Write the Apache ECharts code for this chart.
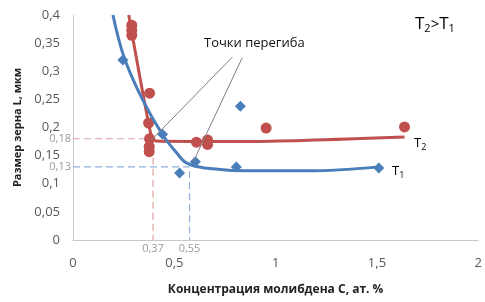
<!DOCTYPE html>
<html>
<head>
<meta charset="utf-8">
<script src="https://cdn.jsdelivr.net/npm/echarts@6/dist/echarts.min.js"></script>
<style>
	html, body {margin: 0; padding: 0; background: #fff;}
	#chart {width: 485px; height: 302px;}
</style>
</head>
<body>
<div id="chart"></div>
<script>
// measured points
var t1_x = [0.246, 0.442, 0.526, 0.604, 0.806, 0.826, 1.509];
var t1_y = [0.32, 0.188, 0.119, 0.139, 0.13, 0.238, 0.128];
var t2_x = [0.29, 0.29, 0.29, 0.378, 0.373, 0.378, 0.376, 0.376, 0.609, 0.664, 0.664, 0.953, 1.636];
var t2_y = [0.382, 0.373, 0.364, 0.261, 0.208, 0.18, 0.166, 0.157, 0.174, 0.178, 0.17, 0.199, 0.201];

// trend curves
var fit1_x = [0.197, 0.252, 0.344, 0.442, 0.511, 0.56, 0.65, 0.87, 1.165, 1.509];
var fit1_y = [0.40, 0.325, 0.249, 0.187, 0.155, 0.137, 0.128, 0.123, 0.123, 0.13];
var fit2_x = [0.275, 0.383, 0.41, 0.87, 1.636];
var fit2_y = [0.40, 0.19, 0.176, 0.175, 0.183];

// inflection points and their labels
var bend_x = [0.395, 0.575];
var bend_y = [0.18, 0.13];
var bend_x_labels = ['0,37', '0,55'];
var bend_y_labels = ['0,18', '0,13'];

// callout "Точки перегиба": start of leader lines and their ends
var callout_from = [[0.786, 0.325], [0.835, 0.324]];
var callout_to = [[0.388, 0.178], [0.595, 0.14]];

var x_ticks = [0, 0.5, 1, 1.5, 2];
var y_ticks = [0, 0.05, 0.1, 0.15, 0.2, 0.25, 0.3, 0.35, 0.4];

var blue = '#4a7ebb';
var red = '#c0504d';
var font = '"Open Sans", "Noto Sans", sans-serif';

function zip(xs, ys){
	var out = [];
	for (var i = 0; i < xs.length; i++) out.push([xs[i], ys[i]]);
	return out;
}

function comma(v){
	return String(+v.toFixed(2)).replace('.', ',');
}

var leaders = [];
for (var i = 0; i < callout_from.length; i++){
	leaders.push(callout_from[i], callout_to[i], '-');
}

var myChart = echarts.init(document.getElementById('chart'));

var options = {
	animation: false,
	textStyle: {fontFamily: font},
	grid: {left: 73, right: 5, top: 15, bottom: 62},
	xAxis: {
		type: 'value', min: x_ticks[0], max: x_ticks[x_ticks.length - 1], interval: 0.5,
		name: 'Концентрация молибдена C, ат. %', nameLocation: 'middle', nameGap: 44,
		nameTextStyle: {fontSize: 12, fontWeight: 'bold', color: '#222'},
		axisLine: {lineStyle: {color: '#c8c8c8', width: 1}},
		axisTick: {show: false},
		splitLine: {show: false},
		axisLabel: {margin: 17, fontSize: 13, color: '#595959', formatter: comma}
	},
	yAxis: {
		type: 'value', min: y_ticks[0], max: y_ticks[y_ticks.length - 1], interval: 0.05,
		name: 'Размер зерна L, мкм', nameLocation: 'middle', nameGap: 48,
		nameTextStyle: {fontSize: 11, fontWeight: 'bold', color: '#222'},
		axisLine: {show: true, lineStyle: {color: '#c8c8c8', width: 1}},
		axisTick: {show: false},
		splitLine: {show: false},
		axisLabel: {margin: 13, fontSize: 13, color: '#595959', formatter: comma}
	},
	series: [
		{
			name: 'ref T2', type: 'line', silent: true, symbol: 'none', z: 1,
			data: [[0, bend_y[0]], [bend_x[0], bend_y[0]], [bend_x[0], 0]],
			lineStyle: {color: '#dca3a2', width: 1.2, type: [7, 4]}
		},
		{
			name: 'ref T1', type: 'line', silent: true, symbol: 'none', z: 1,
			data: [[0, bend_y[1]], [bend_x[1], bend_y[1]], [bend_x[1], 0]],
			lineStyle: {color: '#8fb0da', width: 1.2, type: [7, 4]}
		},
		{
			name: 'callout', type: 'line', silent: true, symbol: 'none', z: 5,
			data: leaders, connectNulls: false,
			lineStyle: {color: '#808080', width: 1}
		},
		{
			name: 'T2 points', type: 'scatter', symbol: 'circle', symbolSize: 11, z: 3,
			data: zip(t2_x, t2_y), itemStyle: {color: red, opacity: 1}
		},
		{
			name: 'T1 points', type: 'scatter', symbol: 'diamond', symbolSize: 11, z: 3,
			data: zip(t1_x, t1_y), itemStyle: {color: blue, opacity: 1}
		},
		{
			name: 'T2', type: 'line', symbol: 'none', smooth: 0.2, z: 4,
			data: zip(fit2_x, fit2_y), lineStyle: {color: red, width: 3}
		},
		{
			name: 'T1', type: 'line', symbol: 'none', smooth: 0.35, z: 4,
			data: zip(fit1_x, fit1_y), lineStyle: {color: blue, width: 3}
		},
		{
			name: 'y marks', type: 'scatter', symbolSize: 0, clip: false, silent: true,
			data: [[0, bend_y[0]], [0, bend_y[1]]],
			label: {
				show: true, position: 'left', distance: 2, fontSize: 11, color: '#7f7f7f',
				formatter: function(p){ return bend_y_labels[p.dataIndex]; }
			}
		},
		{
			name: 'x marks', type: 'scatter', symbolSize: 0, clip: false, silent: true,
			data: [[bend_x[0], 0], [bend_x[1], 0]],
			label: {
				show: true, position: 'bottom', distance: 3, fontSize: 11, color: '#7f7f7f',
				formatter: function(p){ return bend_x_labels[p.dataIndex]; }
			}
		}
	],
	graphic: [
		{type: 'text', left: 204, top: 37, style: {text: 'Точки перегиба', font: '13px ' + font, fill: '#111'}},
		{
			type: 'text', left: 415, top: 16,
			style: {
				text: '{t|T}{s|2}{g|>}{t|T}{s|1}',
				rich: {
					t: {fontSize: 17, fontFamily: font, color: '#333'},
					s: {fontSize: 11, fontFamily: font, color: '#333', padding: [8, 0, 0, 0]},
					g: {fontSize: 15, fontFamily: font, color: '#777'}
				}
			}
		},
		{
			type: 'text', left: 414, top: 137,
			style: {
				text: '{t|T}{s|2}',
				rich: {
					t: {fontSize: 13, fontFamily: font, color: '#222'},
					s: {fontSize: 9, fontFamily: font, color: '#222', padding: [7, 0, 0, 0]}
				}
			}
		},
		{
			type: 'text', left: 392, top: 165,
			style: {
				text: '{t|T}{s|1}',
				rich: {
					t: {fontSize: 13, fontFamily: font, color: '#222'},
					s: {fontSize: 9, fontFamily: font, color: '#222', padding: [7, 0, 0, 0]}
				}
			}
		}
	]
};

myChart.setOption((options), true);
</script>
</body>
</html>
